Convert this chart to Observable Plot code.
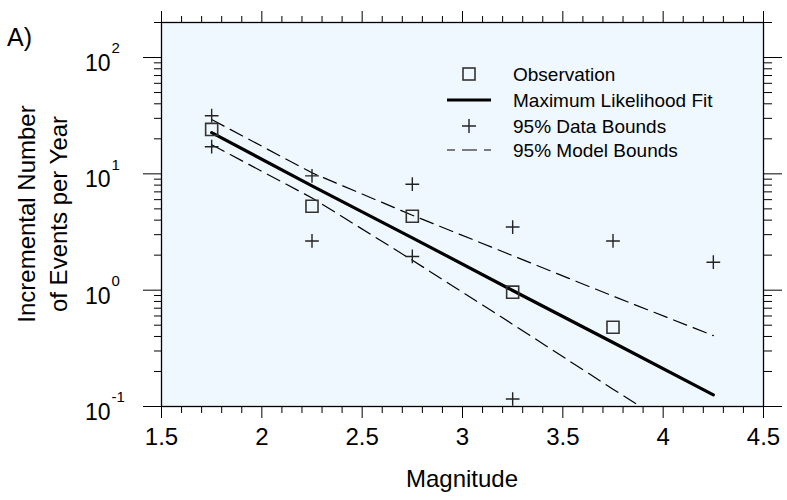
<!DOCTYPE html>
<html><head><meta charset="utf-8">
<script src="https://cdn.jsdelivr.net/npm/d3@7"></script>
<script src="https://cdn.jsdelivr.net/npm/@observablehq/plot@0.6"></script>
<style>body{margin:0;background:#fff;font-family:"Liberation Sans",Arial,sans-serif}</style>
</head><body><div id="chart"></div>
<script>
// ---- data ----
const magnitudes = [1.75, 2.25, 2.75, 3.25, 3.75, 4.25];
const observed   = [24.1, 5.27, 4.32, 0.961, 0.480, null];
const dataUpper  = [31.6, 9.61, 8.15, 3.49, 2.65, 1.74];
const dataLower  = [17.1, 2.65, 1.95, 0.116, null, null];
const fitValues  = [22.6, 7.89, 2.82, 0.994, 0.355, 0.126];
const modelUpper = [29.3, 10.2, 4.41, 1.98, 0.889, 0.407];
const modelLower = [17.8, 6.21, 1.81, 0.509, 0.141, 0.040];
const xMajorTicks = [1.5, 2, 2.5, 3, 3.5, 4, 4.5];
const xTickLabels = ["1.5", "2", "2.5", "3", "3.5", "4", "4.5"];
const yMajorTicks = [0.1, 1, 10, 100];
const yExponents  = ["-1", "0", "1", "2"];
const legendLabels = ["Observation", "Maximum Likelihood Fit", "95% Data Bounds", "95% Model Bounds"];
const xTitle = "Magnitude";
const yTitleLines = ["Incremental Number", "of Events per Year"];
const panelLabel = "A)";

// ---- derived tables ----
const rows = magnitudes.map((m, i) => ({m, obs: observed[i], fit: fitValues[i], mu: modelUpper[i], ml: modelLower[i]}));
const dataBounds = magnitudes.flatMap((m, i) => [dataUpper[i], dataLower[i]].filter(v => v != null).map(v => ({m, v})));
const xMinor = d3.range(15, 46).map(k => k / 10).filter(v => !xMajorTicks.some(t => Math.abs(t - v) < 1e-9));
const yMinor = [0.1, 1, 10, 100].flatMap(d => d3.range(2, 10).map(k => +(k * d).toPrecision(3))).filter(v => v <= 200);

const font = "Liberation Sans, Arial, sans-serif";
const hide = () => "";

const chart = Plot.plot({
  width: 787, height: 500,
  marginLeft: 161, marginRight: 24, marginTop: 22, marginBottom: 94,
  style: {fontFamily: font, background: "white", color: "black", overflow: "visible"},
  x: {domain: [1.5, 4.5], label: null},
  y: {type: "log", domain: [0.1, 200], label: null},
  marks: [
    Plot.frame({fill: "#f0f8ff", stroke: null}),
    Plot.line(rows, {x: "m", y: "mu", stroke: "black", strokeWidth: 1.2, strokeDasharray: "14,7", clip: true}),
    Plot.line(rows, {x: "m", y: "ml", stroke: "black", strokeWidth: 1.2, strokeDasharray: "14,7", clip: true}),
    Plot.line(rows, {x: "m", y: "fit", stroke: "black", strokeWidth: 3.2, clip: true}),
    Plot.dot(rows.filter(r => r.obs != null), {x: "m", y: "obs", symbol: "square", r: 6.8, stroke: "#333", strokeWidth: 1.6, fill: "none"}),
    Plot.dot(dataBounds, {x: "m", y: "v", symbol: "plus", r: 4.5, stroke: "#222", strokeWidth: 1.4}),
    Plot.frame({stroke: "black", strokeWidth: 1.3}),
    // x axes bottom/top
    Plot.axisX({anchor: "bottom", ticks: xMinor, tickSize: 7, tickFormat: hide}),
    Plot.axisX({anchor: "top", ticks: xMinor, tickSize: 7, tickFormat: hide}),
    Plot.axisX({anchor: "top", ticks: xMajorTicks, tickSize: 12, tickFormat: hide}),
    Plot.axisX({anchor: "bottom", ticks: xMajorTicks, tickSize: 12, tickPadding: 9, fontSize: 24,
      tickFormat: d => xTickLabels[xMajorTicks.indexOf(d)]}),
    // y axes left/right
    Plot.axisY({anchor: "left", ticks: yMinor, tickSize: 7, tickFormat: hide}),
    Plot.axisY({anchor: "right", ticks: yMinor, tickSize: 8, tickFormat: hide}),
    Plot.axisY({anchor: "left", ticks: yMajorTicks, tickSize: 18, tickFormat: hide}),
    Plot.axisY({anchor: "right", ticks: yMajorTicks, tickSize: 18, tickFormat: hide}),
    Plot.text(yMajorTicks, {y: d => d, text: () => "10", frameAnchor: "left", textAnchor: "end", dx: -51, dy: 6, fontSize: 23}),
    Plot.text(yMajorTicks, {y: d => d, text: yExponents, frameAnchor: "left", textAnchor: "start", dx: -50, dy: -9, fontSize: 15})
  ]
});
document.getElementById("chart").appendChild(chart);

// ---- titles and legend ----
const svg = d3.select(chart);
svg.append("text").attr("x", 7).attr("y", 46).attr("text-anchor", "start").attr("font-size", 25).attr("font-family", font).text(panelLabel);
svg.append("text").attr("x", 462).attr("y", 487).attr("text-anchor", "middle").attr("font-size", 24).attr("font-family", font).text(xTitle);
yTitleLines.forEach((t, i) => {
  svg.append("text").attr("transform", `translate(${35 + i * 32},214) rotate(-90)`)
    .attr("text-anchor", "middle").attr("font-size", 24).attr("font-family", font).text(t);
});
const lg = svg.append("g").attr("font-family", font).attr("font-size", 19).attr("text-anchor", "start");
const rowY = [74, 100, 126, 150];
lg.append("rect").attr("x", 463).attr("y", rowY[0] - 6).attr("width", 12).attr("height", 12).attr("fill", "none").attr("stroke", "#333").attr("stroke-width", 1.6);
lg.append("line").attr("x1", 447).attr("x2", 491).attr("y1", rowY[1]).attr("y2", rowY[1]).attr("stroke", "black").attr("stroke-width", 3.2);
lg.append("path").attr("d", `M462,${rowY[2]}H476M469,${rowY[2] - 7}V${rowY[2] + 7}`).attr("stroke", "#222").attr("stroke-width", 1.4).attr("fill", "none");
lg.append("line").attr("x1", 447).attr("x2", 491).attr("y1", rowY[3]).attr("y2", rowY[3]).attr("stroke", "black").attr("stroke-width", 1.2).attr("stroke-dasharray", "15,7").attr("stroke-dashoffset", 7);
legendLabels.forEach((t, i) => {
  lg.append("text").attr("x", 513).attr("y", rowY[i]).attr("dy", "0.35em").attr("text-anchor", "start").text(t);
});
</script></body></html>
